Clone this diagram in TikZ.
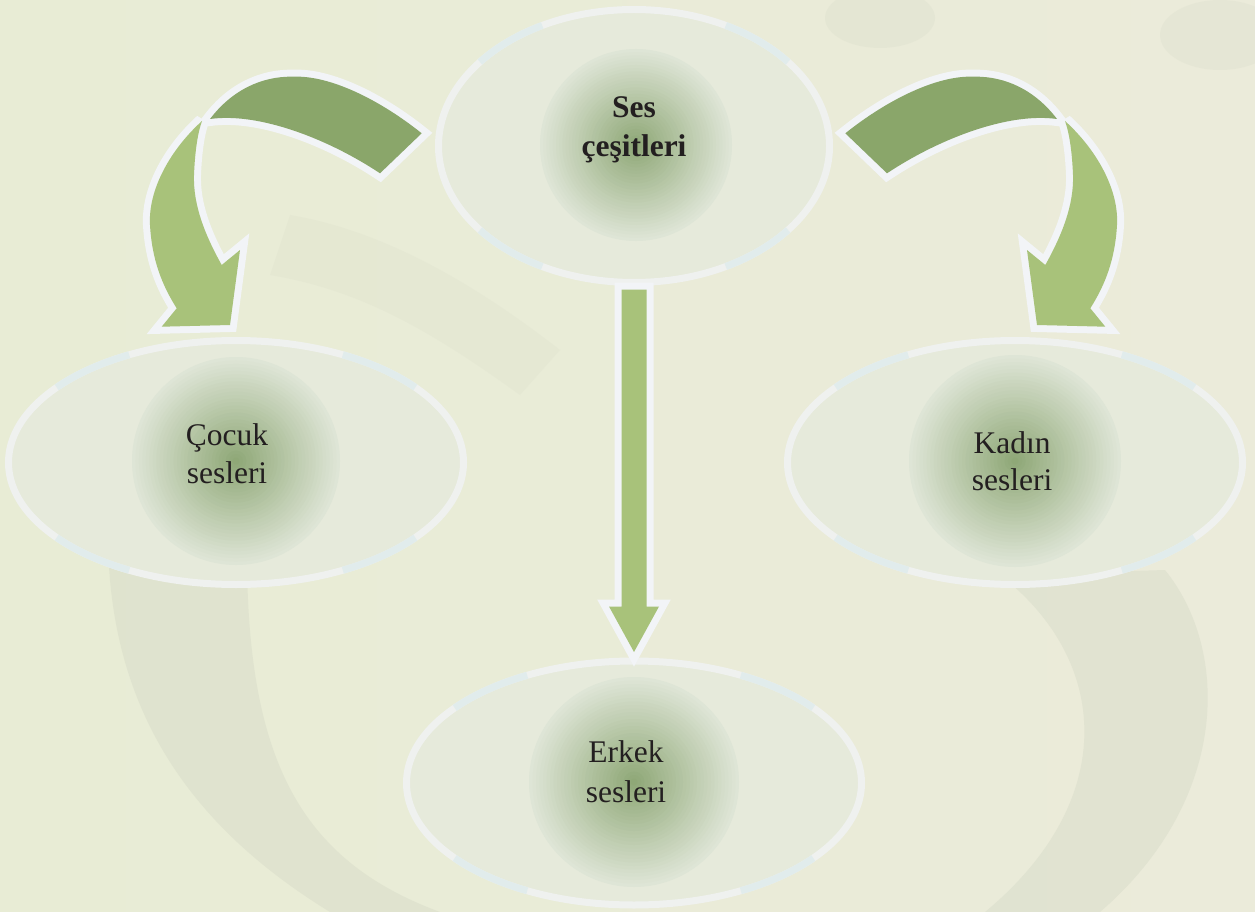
\documentclass[tikz,border=0pt]{standalone}
\usepackage{fontspec}
\setmainfont{Liberation Serif}
\usetikzlibrary{shapes.geometric,calc}
\definecolor{bgL}{HTML}{E8ECD5}
\definecolor{bgR}{HTML}{EBEBDA}
\definecolor{wm}{HTML}{D3D7C5}
\definecolor{ellfill}{HTML}{E6EADB}
\definecolor{ellbord}{HTML}{EFF1EF}
\definecolor{ellblue}{HTML}{E1ECEC}
\definecolor{arrdark}{HTML}{8AA66A}
\definecolor{arrlight}{HTML}{A8C27A}
\definecolor{arrbord}{HTML}{F2F4F7}
\definecolor{gcenter}{HTML}{8FA877}
\definecolor{gedge}{HTML}{DEE5D6}
\definecolor{txt}{HTML}{231F20}
\newcommand\mkglow[3]{%
  \foreach \i in {0,...,29}{%
    \pgfmathsetmacro\rr{#3*(30-\i)/30}%
    \pgfmathtruncatemacro\pp{\i*100/29}%
    \fill[gcenter!\pp!gedge] (#1,#2) circle[radius=\rr];
  }}
\newcommand\bluearcs[3]{%
  \foreach \s in {38,118,218,298}{%
    \pgfmathsetmacro\se{\s+24}%
    \draw[ellblue, line width=7pt, shift={(#1.center)}] plot[domain=\s:\se, samples=13] ({#2*cos(\x)},{#3*sin(\x)});
  }}
\newcommand\curvedarrow{%
  \fill[arrowpiece=arrdark] (421.7,133.3) .. controls (380,100) and (330,75) .. (293,76.7)
    .. controls (262,76) and (232,90) .. (210,119)
    .. controls (260,112) and (330,140) .. (380,173.3) -- cycle;
  \fill[arrowpiece=arrlight] (202,121) .. controls (170,150) and (148,190) .. (150,225)
    .. controls (152,260) and (162,285) .. (176.7,308.3)
    -- (161.7,326.7) -- (230,325) -- (240,250) -- (221.7,265)
    .. controls (205,235) and (193,205) .. (194,175)
    .. controls (195,150) and (198,132) .. (202,121) -- cycle;
}
\begin{document}
\begin{tikzpicture}[x=1pt,y=-1pt,
  ell/.style={ellipse, draw=ellbord, fill=ellfill, line width=7pt, inner sep=0pt},
  arrowpiece/.style={fill=#1, preaction={draw=arrbord, line width=14pt, line join=miter, miter limit=3}},
  lbl/.style={text=txt, inner sep=0pt, anchor=base},
  wmark/.style={fill=wm, opacity=0.4}]
\useasboundingbox (0,0) rectangle (1255,912);
\shade[left color=bgL, right color=bgR] (0,0) rectangle (1255,912);
% faint watermark bands
\fill[wmark] (108,540) .. controls (110,700) and (180,820) .. (330,912) -- (440,912)
  .. controls (300,860) and (245,760) .. (247,540) -- cycle;
\fill[wmark] (1000,575) .. controls (1110,660) and (1120,800) .. (985,912) -- (1100,912)
  .. controls (1230,800) and (1230,650) .. (1165,570) -- cycle;
\fill[wmark, opacity=0.18] (290,215) .. controls (380,230) and (470,280) .. (560,350) -- (520,395)
  .. controls (430,330) and (360,290) .. (270,275) -- cycle;
\fill[wmark, opacity=0.22] (880,18) ellipse[x radius=55, y radius=30];
\fill[wmark, opacity=0.22] (1220,35) ellipse[x radius=60, y radius=35];
% ellipses
\node[ell, minimum width=391pt, minimum height=273pt] (top) at (634,146) {};
\node[ell, minimum width=455pt, minimum height=244pt] (cocuk) at (236,462.5) {};
\node[ell, minimum width=455pt, minimum height=244pt] (kadin) at (1015,462.5) {};
\node[ell, minimum width=455pt, minimum height=244pt] (erkek) at (634,783) {};
\bluearcs{top}{195.5}{136.5}
\bluearcs{cocuk}{227.5}{122}
\bluearcs{kadin}{227.5}{122}
\bluearcs{erkek}{227.5}{122}
\mkglow{636}{145}{96}
\mkglow{236}{461}{104}
\mkglow{1015}{461}{106}
\mkglow{634}{782}{105}
% arrows
\curvedarrow
\begin{scope}[xshift=1267pt, xscale=-1]
\curvedarrow
\end{scope}
\fill[arrowpiece=arrlight] ($(top.south)+(-12.5,3.5)$) -- ($(erkek.north)+(-12.5,-51)$)
  -- ($(erkek.north)+(-25,-51)$) -- ($(erkek.north)+(0,-5.5)$) -- ($(erkek.north)+(25,-51)$)
  -- ($(erkek.north)+(12.5,-51)$) -- ($(top.south)+(12.5,3.5)$) -- cycle;
% labels
\node[lbl, font=\bfseries\fontsize{31.5}{39}\selectfont] (t1) at (634,118)
  {\begin{tabular}[t]{@{}c@{}}Ses\\çeşitleri\end{tabular}};
\node[lbl, font=\fontsize{31.5}{38}\selectfont] (t2) at (227,445)
  {\begin{tabular}[t]{@{}c@{}}Çocuk\\sesleri\end{tabular}};
\node[lbl, font=\fontsize{31.5}{37}\selectfont] (t3) at (1012,453)
  {\begin{tabular}[t]{@{}c@{}}Kadın\\sesleri\end{tabular}};
\node[lbl, font=\fontsize{31.5}{40}\selectfont] (t4) at (626,762)
  {\begin{tabular}[t]{@{}c@{}}Erkek\\sesleri\end{tabular}};
\end{tikzpicture}
\end{document}
